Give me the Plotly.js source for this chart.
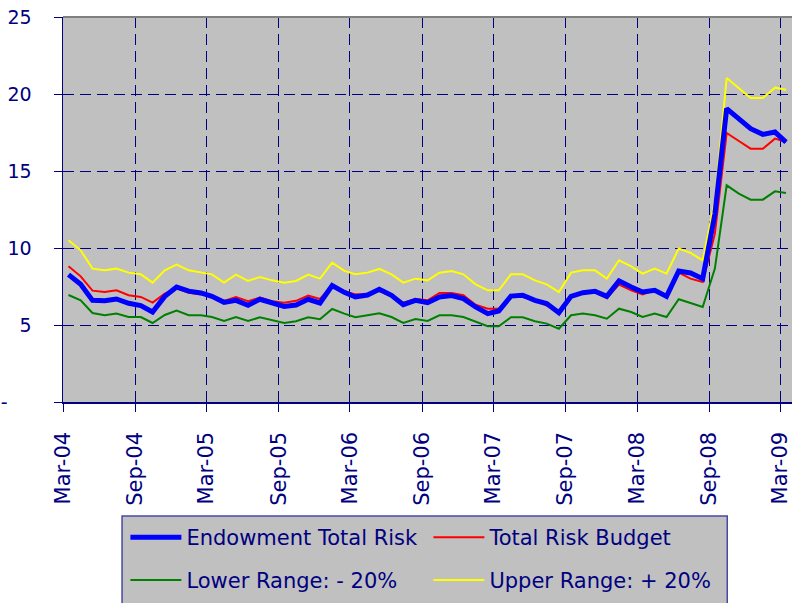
<!DOCTYPE html>
<html>
<head>
<meta charset="utf-8">
<script src="https://cdn.plot.ly/plotly-3.0.1.min.js"></script>
<style>
  html, body { margin: 0; padding: 0; background: #ffffff; }
  #chart { width: 792px; height: 603px; }
</style>
</head>
<body>
<div id="chart"></div>
<script>
// Monthly observations, Mar-04 .. Mar-09 (61 months)
const startYear = 2004;
const startMonth = 3;
const nMonths = 61;

const endowmentTotalRisk = [
  8.27, 7.64, 6.60, 6.57, 6.69, 6.41, 6.26, 5.84, 6.86, 7.47,
  7.20, 7.08, 6.86, 6.47, 6.60, 6.28, 6.67, 6.43, 6.21, 6.30,
  6.67, 6.43, 7.56, 7.12, 6.82, 6.95, 7.32, 6.93, 6.32, 6.60,
  6.45, 6.82, 6.91, 6.71, 6.17, 5.74, 5.91, 6.88, 6.93, 6.60,
  6.39, 5.80, 6.86, 7.10, 7.19, 6.86, 7.86, 7.47, 7.14, 7.25,
  6.86, 8.51, 8.38, 8.01, 12.20, 19.05, 18.40, 17.75, 17.38, 17.53,
  16.88
];
const totalRiskBudget = [
  8.81, 8.16, 7.23, 7.14, 7.25, 6.93, 6.82, 6.45, 7.04, 7.36,
  7.10, 6.99, 6.90, 6.56, 6.82, 6.54, 6.78, 6.54, 6.45, 6.57,
  6.91, 6.69, 7.58, 7.19, 6.99, 6.99, 7.21, 6.86, 6.45, 6.69,
  6.60, 7.08, 7.08, 6.93, 6.32, 6.06, 6.06, 6.82, 6.82, 6.60,
  6.28, 5.91, 6.93, 7.08, 7.10, 6.75, 7.62, 7.25, 6.99, 7.25,
  6.82, 8.40, 8.01, 7.79, 10.93, 17.47, 16.95, 16.45, 16.45, 17.10,
  16.88
];
const lowerRange = [
  6.95, 6.60, 5.78, 5.63, 5.74, 5.52, 5.52, 5.13, 5.65, 5.93,
  5.63, 5.63, 5.52, 5.26, 5.52, 5.26, 5.50, 5.30, 5.13, 5.24,
  5.50, 5.37, 6.04, 5.74, 5.50, 5.63, 5.76, 5.52, 5.13, 5.39,
  5.26, 5.63, 5.63, 5.52, 5.20, 4.92, 4.92, 5.50, 5.50, 5.24,
  5.09, 4.76, 5.63, 5.74, 5.63, 5.41, 6.06, 5.84, 5.52, 5.74,
  5.52, 6.67, 6.43, 6.17, 8.66, 14.07, 13.53, 13.14, 13.14, 13.68,
  13.57
];
const upperRange = [
  10.50, 9.85, 8.66, 8.55, 8.66, 8.40, 8.29, 7.75, 8.55, 8.92,
  8.55, 8.42, 8.29, 7.75, 8.27, 7.86, 8.12, 7.90, 7.75, 7.86,
  8.27, 8.01, 9.05, 8.51, 8.29, 8.40, 8.64, 8.29, 7.75, 8.01,
  7.90, 8.40, 8.51, 8.29, 7.64, 7.25, 7.25, 8.29, 8.29, 7.90,
  7.64, 7.14, 8.40, 8.55, 8.55, 8.01, 9.20, 8.81, 8.34, 8.66,
  8.34, 9.96, 9.68, 9.20, 13.10, 21.04, 20.35, 19.74, 19.74, 20.41,
  20.28
];

const seriesNames = ['Endowment Total Risk', 'Total Risk Budget', 'Lower Range: - 20%', 'Upper Range: + 20%'];
const yTickVals = [0, 5, 10, 15, 20, 25];
const yTickText = ['-\u00a0\u00a0\u00a0\u00a0', '5', '10', '15', '20', '25'];

// month dates (mid-month) for the category axis
const months = [];
for (let i = 0; i < nMonths; i++) {
  const m0 = startMonth - 1 + i;
  const y = startYear + Math.floor(m0 / 12);
  const m = (m0 % 12) + 1;
  months.push(y + '-' + String(m).padStart(2, '0') + '-15');
}

const NAVY = '#000080';
const FONT = 'DejaVu Sans, Verdana, sans-serif';

// legends use reversed order, so list the later entry first within each legend
const traces = [
  { x: months, y: upperRange, name: seriesNames[3], type: 'scatter', mode: 'lines',
    line: { color: '#ffff00', width: 2 }, legend: 'legend2' },
  { x: months, y: lowerRange, name: seriesNames[2], type: 'scatter', mode: 'lines',
    line: { color: '#008000', width: 2 }, legend: 'legend2' },
  { x: months, y: totalRiskBudget, name: seriesNames[1], type: 'scatter', mode: 'lines',
    line: { color: '#ff0000', width: 2 }, legend: 'legend' },
  { x: months, y: endowmentTotalRisk, name: seriesNames[0], type: 'scatter', mode: 'lines',
    line: { color: '#0000ff', width: 5 }, legend: 'legend' }
];

const legendCommon = {
  orientation: 'h', xanchor: 'left', yanchor: 'middle',
  bgcolor: 'rgba(0,0,0,0)', borderwidth: 0,
  font: { family: FONT, size: 21, color: NAVY },
  itemwidth: 51, entrywidth: 237, entrywidthmode: 'pixels',
  traceorder: 'reversed'
};

const layout = {
  width: 792, height: 603, autosize: false,
  margin: { l: 63, r: 0, t: 17, b: 201, pad: 0 },
  paper_bgcolor: '#ffffff',
  plot_bgcolor: '#c0c0c0',
  font: { family: FONT, color: NAVY },
  showlegend: true,
  xaxis: {
    type: 'date',
    range: ['2004-03-01', '2009-03-30 07:00'],
    tick0: '2004-03-01', dtick: 'M6', tickformat: '%b-%y',
    tickangle: -90,
    tickfont: { family: FONT, size: 21, color: NAVY },
    ticks: 'outside', ticklen: 8, tickcolor: NAVY, tickwidth: 1,
    ticklabelstandoff: 12,
    ticklabeloverflow: 'allow',
    showgrid: true, gridcolor: NAVY, gridwidth: 1, griddash: '11px,6px',
    showline: true, linecolor: NAVY, linewidth: 1.5,
    zeroline: false, fixedrange: true
  },
  yaxis: {
    range: [0, 25],
    tickvals: yTickVals, ticktext: yTickText,
    tickfont: { family: FONT, size: 19, color: NAVY },
    ticks: 'outside', ticklen: 8, tickcolor: NAVY, tickwidth: 1,
    ticklabelstandoff: 18,
    showgrid: true, gridcolor: NAVY, gridwidth: 1, griddash: '11px,6px',
    showline: true, linecolor: NAVY, linewidth: 1.5,
    zeroline: false, fixedrange: true
  },
  legend: Object.assign({}, legendCommon, { x: 0.0856, y: -0.3522 }),
  legend2: Object.assign({}, legendCommon, { x: 0.0856, y: -0.4631 }),
  shapes: [
    { type: 'rect', xref: 'paper', yref: 'paper', x0: 0.081, x1: 0.9112, y0: -0.60, y1: -0.2961,
      fillcolor: '#c0c0c0', line: { color: '#4848a8', width: 1.5 }, layer: 'below' },
    { type: 'line', xref: 'paper', yref: 'paper', x0: 0, x1: 1, y0: 1, y1: 1,
      line: { color: '#808080', width: 2 } }
  ]
};

Plotly.newPlot('chart', traces, layout, { displayModeBar: false, staticPlot: true });
</script>
</body>
</html>
